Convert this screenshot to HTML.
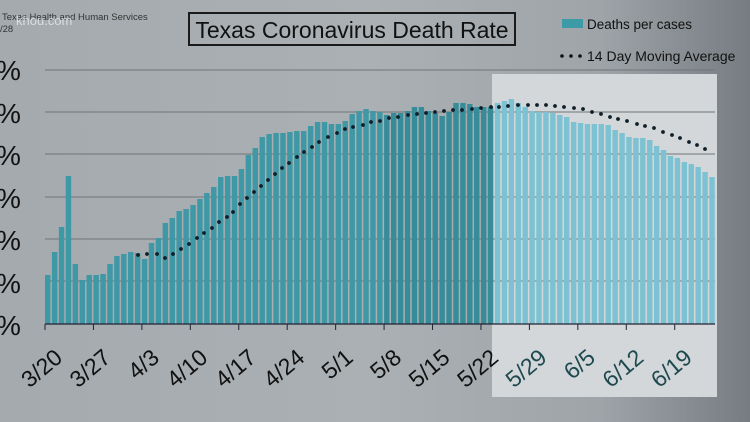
<!DOCTYPE html>
<html><head><style>
html,body{margin:0;padding:0}
body{width:750px;height:422px;overflow:hidden;background:linear-gradient(90deg,#a4aaae 0%,#aab0b3 50%,#9ea4a8 80%,#767c81 100%);font-family:"Liberation Sans",sans-serif}
</style></head><body>
<svg id="s" width="750" height="422" xmlns="http://www.w3.org/2000/svg" style="position:absolute;left:0;top:0">
<rect x="492" y="74" width="225" height="323" fill="#d3d7da"/>
<g stroke="#6f7478" stroke-width="1">
<line x1="45" y1="70" x2="715" y2="70"/><line x1="45" y1="112" x2="715" y2="112"/>
<line x1="45" y1="154" x2="715" y2="154"/><line x1="45" y1="197" x2="715" y2="197"/>
<line x1="45" y1="239" x2="715" y2="239"/><line x1="45" y1="281" x2="715" y2="281"/>
</g>
<g id="bars"></g>
<line x1="45" y1="324" x2="715" y2="324" stroke="#223" stroke-width="1.2"/>
<g id="ticks" stroke="#223" stroke-width="1"></g>
<g id="ma" fill="#0f1f2a"></g>
<g font-size="28" fill="#111">
<text x="-4" y="80">%</text><text x="-4" y="123">%</text><text x="-4" y="165">%</text>
<text x="-4" y="208">%</text><text x="-4" y="250">%</text><text x="-4" y="293">%</text><text x="-4" y="335">%</text>
</g>
<g id="lbl" font-size="23" fill="#111"></g>
<rect x="189" y="13" width="326" height="32" fill="none" stroke="#1a1a1a" stroke-width="2"/>
<text x="352" y="38" font-size="23" text-anchor="middle" fill="#111">Texas Coronavirus Death Rate</text>
<rect x="562" y="19" width="21" height="9" fill="#3d9aa7"/>
<text x="587" y="29" font-size="13.5" fill="#111">Deaths per cases</text>
<circle cx="562" cy="56" r="1.8" fill="#111"/><circle cx="571" cy="56" r="1.8" fill="#111"/><circle cx="580" cy="56" r="1.8" fill="#111"/>
<text x="587" y="61" font-size="14" fill="#111">14 Day Moving Average</text>
<text x="2" y="20" font-size="9.5" fill="#333">Texas Health and Human Services</text>
<text x="0" y="32" font-size="9.5" fill="#333">/28</text>
<text x="16" y="25" font-size="13" fill="#e8eaec" opacity="0.8">khou.com</text>
</svg>
<script>
var tops=[275,252,227,176,264,280,275,275,274,264,256,254,252,253,259,243,238,223,218,211,209,205,199,193,187,177,176,176,169,155,148,137,134,133,133,132,131,131,126,122,122,124,124,121,114,111,109,111,112,115,113,113,111,107,107,111,113,116,112,103,103,104,107,107,107,103,101,99,103,107,111,112,112,113,115,117,122,123,124,124,124,125,130,133,137,138,138,140,146,150,156,158,162,164,167,172,177];
var dots=[[138,255],[147,254],[157,254],[165,258],[173,254],[181,249],[189,244],[197,238],[204,233],[212,228],[219,222],[227,217],[233,212],[240,204],[247,198],[254,192],[261,186],[268,180],[275,174],[282,168],[289,163],[297,157],[304,152],[312,147],[319,142],[328,137],[337,133],[345,129],[353,127],[363,125],[371,122],[380,121],[389,118],[398,117],[408,115],[417,114],[426,113],[435,112],[444,111],[453,110],[462,110],[472,109],[481,108],[491,107],[499,107],[508,106],[518,105],[528,105],[537,105],[546,105],[555,106],[564,107],[574,108],[583,109],[592,112],[601,114],[610,117],[618,119],[627,121],[637,124],[645,126],[654,128],[663,132],[672,135],[680,138],[689,142],[697,145],[705,149]];
var ns="http://www.w3.org/2000/svg",P=6.92,X0=45;
var b=document.getElementById('bars');
tops.forEach(function(t,i){var r=document.createElementNS(ns,'rect');var x=X0+i*P;r.setAttribute('x',x.toFixed(2));r.setAttribute('y',t);r.setAttribute('width',5.4);r.setAttribute('height',324-t);r.setAttribute('fill',x>=490?'#7cc2d2':(x>380?'#378c99':'#3e98a5'));b.appendChild(r);});
var m=document.getElementById('ma');
dots.forEach(function(d){var c=document.createElementNS(ns,'circle');c.setAttribute('cx',d[0]);c.setAttribute('cy',d[1]);c.setAttribute('r',1.9);m.appendChild(c);});
var labs=['3/20','3/27','4/3','4/10','4/17','4/24','5/1','5/8','5/15','5/22','5/29','6/5','6/12','6/19'];
var tk=document.getElementById('ticks'),lb=document.getElementById('lbl');
labs.forEach(function(l,i){var x=X0+i*7*P;var ln=document.createElementNS(ns,'line');ln.setAttribute('x1',x);ln.setAttribute('x2',x);ln.setAttribute('y1',324);ln.setAttribute('y2',330);tk.appendChild(ln);
var ax=x+8,ay=347;var t=document.createElementNS(ns,'text');t.setAttribute('x',ax);t.setAttribute('y',ay);t.setAttribute('text-anchor','end');t.setAttribute('dominant-baseline','hanging');t.setAttribute('transform','rotate(-40 '+ax+' '+ay+')');if(x>491)t.setAttribute('fill','#1e4a4f');t.textContent=l;lb.appendChild(t);});
</script>
</body></html>
